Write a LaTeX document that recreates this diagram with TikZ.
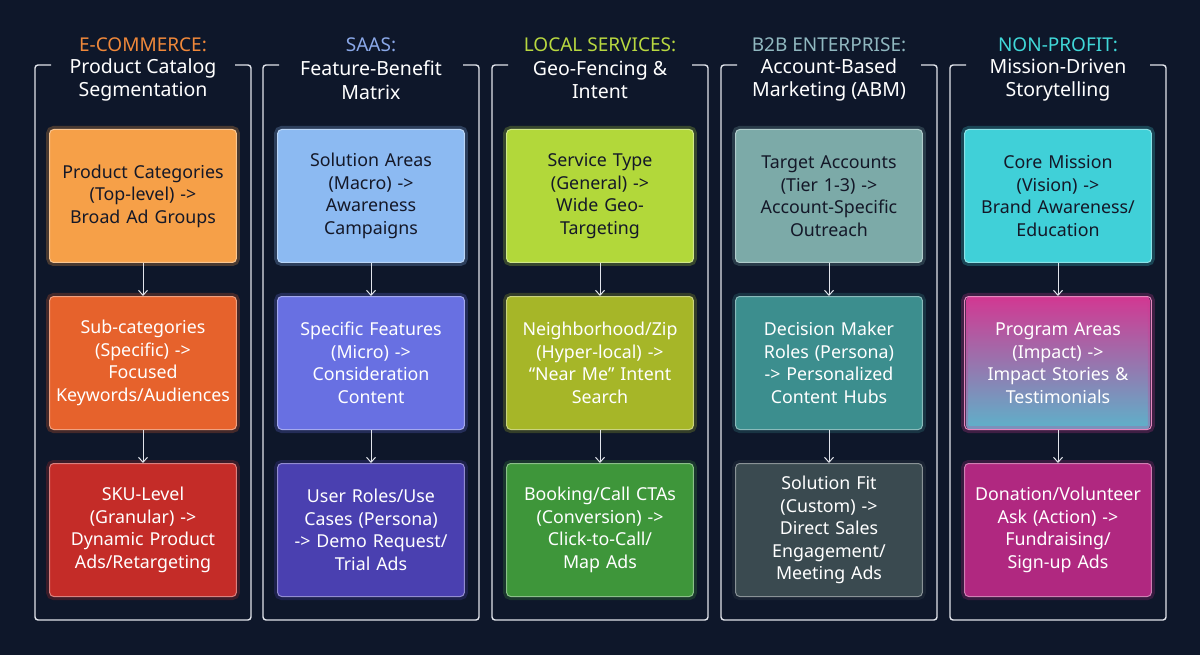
\documentclass[tikz,border=0pt]{standalone}
\usepackage{fontspec}
\setmainfont{Noto Sans}
\usetikzlibrary{arrows.meta}
\definecolor{bg}{RGB}{14,23,42}
\definecolor{frame}{RGB}{225,228,235}
\definecolor{ecA}{RGB}{246,160,72}
\definecolor{ecB}{RGB}{230,98,44}
\definecolor{ecC}{RGB}{196,44,40}
\definecolor{saA}{RGB}{140,186,242}
\definecolor{saB}{RGB}{104,112,226}
\definecolor{saC}{RGB}{74,64,176}
\definecolor{loA}{RGB}{178,216,58}
\definecolor{loB}{RGB}{166,182,40}
\definecolor{loC}{RGB}{62,150,58}
\definecolor{bbA}{RGB}{124,170,168}
\definecolor{bbB}{RGB}{60,142,142}
\definecolor{bbC}{RGB}{58,74,80}
\definecolor{npA}{RGB}{64,208,216}
\definecolor{npM}{RGB}{210,56,146}
\definecolor{npC}{RGB}{176,40,128}
\definecolor{tEc}{RGB}{240,136,58}
\definecolor{tSa}{RGB}{138,168,232}
\definecolor{tLo}{RGB}{184,216,64}
\definecolor{tBb}{RGB}{144,184,192}
\definecolor{tNp}{RGB}{64,216,216}
\definecolor{dark}{RGB}{20,24,40}

\tikzset{
  box/.style={draw=#1!60!white, fill=#1, rounded corners=4pt, minimum width=184pt,
    minimum height=133pt, text width=180pt, align=center, line width=1pt,
    font=\fontsize{17.8}{22.5}\selectfont, text=white,
    preaction={draw=#1, line width=7pt, draw opacity=0.25}},
  head/.style={font=\fontsize{19.5}{23.5}\selectfont, text=white, align=center},
  tag/.style={font=\fontsize{19}{23.5}\selectfont\bfseries, text=#1},
  arr/.style={frame, line width=1pt, -{Straight Barb[length=5pt,width=9pt]}},
  brk/.style={frame, line width=1.4pt, rounded corners=3pt},
}

\begin{document}
\begin{tikzpicture}[x=1pt, y=-1pt]
  \fill[bg] (0,0) rectangle (1200,655);

  % frames
  \foreach \cx in {143, 371, 600, 829, 1058}{
    \draw[brk] (\cx-92,65) -- (\cx-108,65) -- (\cx-108,620) -- (\cx+108,620) -- (\cx+108,65) -- (\cx+92,65);
  }

  \node[tag=tEc] (tag1) at (143,45) {E-COMMERCE:};
  \node[tag=tSa] (tag2) at (371,45) {SAAS:};
  \node[tag=tLo] (tag3) at (600,45) {LOCAL SERVICES:};
  \node[tag=tBb] (tag4) at (829,45) {B2B ENTERPRISE:};
  \node[tag=tNp] (tag5) at (1058,45) {NON-PROFIT:};
  \node[head] (head1) at (143,80) {Product Catalog\\Segmentation};
  \node[head] (head2) at (371,80) {Feature-Benefit\\Matrix};
  \node[head] (head3) at (600,80) {Geo-Fencing \&\\Intent};
  \node[head] (head4) at (829,80) {Account-Based\\Marketing (ABM)};
  \node[head] (head5) at (1058,80) {Mission-Driven\\Storytelling};

  % e-commerce
  \node[box=ecA, text=dark] (ec1) at (143,196) {Product Categories\\(Top-level) ->\\Broad Ad Groups};
  \node[box=ecB] (ec2) at (143,363) {Sub-categories\\(Specific) ->\\Focused\\Keywords/Audiences};
  \node[box=ecC] (ec3) at (143,530) {SKU-Level\\(Granular) ->\\Dynamic Product\\Ads/Retargeting};

  % saas
  \node[box=saA, text=dark] (sa1) at (371,196) {Solution Areas\\(Macro) ->\\Awareness\\Campaigns};
  \node[box=saB] (sa2) at (371,363) {Specific Features\\(Micro) ->\\Consideration\\Content};
  \node[box=saC] (sa3) at (371,530) {User Roles/Use\\Cases (Persona)\\-> Demo Request/\\Trial Ads};

  % local services
  \node[box=loA, text=dark] (lo1) at (600,196) {Service Type\\(General) ->\\Wide Geo-\\Targeting};
  \node[box=loB] (lo2) at (600,363) {Neighborhood/Zip\\(Hyper-local) ->\\“Near Me” Intent\\Search};
  \node[box=loC] (lo3) at (600,530) {Booking/Call CTAs\\(Conversion) ->\\Click-to-Call/\\Map Ads};

  % b2b
  \node[box=bbA, text=dark] (bb1) at (829,196) {Target Accounts\\(Tier 1-3) ->\\Account-Specific\\Outreach};
  \node[box=bbB] (bb2) at (829,363) {Decision Maker\\Roles (Persona)\\-> Personalized\\Content Hubs};
  \node[box=bbC] (bb3) at (829,530) {Solution Fit\\(Custom) ->\\Direct Sales\\Engagement/\\Meeting Ads};

  % non-profit
  \node[box=npA, text=dark] (np1) at (1058,196) {Core Mission\\(Vision) ->\\Brand Awareness/\\Education};
  \shade[top color=npM, bottom color=npA!80!npM, rounded corners=4pt] (966,296.5) rectangle (1150,429.5);
  \node[box=npM, fill=none] (np2) at (1058,363) {Program Areas\\(Impact) ->\\Impact Stories \&\\Testimonials};
  \node[box=npC] (np3) at (1058,530) {Donation/Volunteer\\Ask (Action) ->\\Fundraising/\\Sign-up Ads};

  \foreach \c in {ec,sa,lo,bb,np}{
    \draw[arr] (\c1) -- (\c2);
    \draw[arr] (\c2) -- (\c3);
  }
\end{tikzpicture}
\end{document}
